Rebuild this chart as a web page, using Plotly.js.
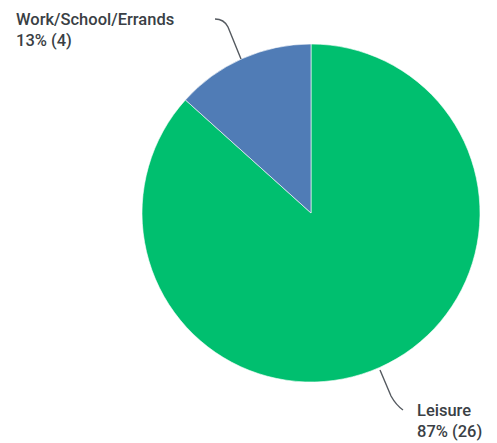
<!DOCTYPE html>
<html>
<head>
<meta charset="utf-8">
<script src="https://cdn.plot.ly/plotly-3.0.1.min.js"></script>
<style>html,body{margin:0;padding:0;background:#fff;}#chart{width:497px;height:443px;}</style>
</head>
<body>
<div id="chart"></div>
<script>
const categories = ["Leisure", "Work/School/Errands"];
const counts = [26, 4];
const colors = ["#00BF6F", "#507CB6"];

const W = 497, H = 443;
const px = x => x / W;
const py = y => 1 - y / H;
const total = counts.reduce((a, b) => a + b, 0);
const labelText = i => categories[i] + "<br>" + Math.round(counts[i] / total * 100) + "% (" + counts[i] + ")";

const trace = {
  type: "pie",
  labels: categories,
  values: counts,
  sort: false,
  direction: "clockwise",
  rotation: 0,
  textinfo: "none",
  hoverinfo: "none",
  showlegend: false,
  marker: { colors: colors, line: { color: "#ffffff", width: 0.6 } },
  domain: { x: [px(142), px(480)], y: [py(382), py(44)] }
};

function pathFrom(pts) {
  return "M " + px(pts[0][0]) + "," + py(pts[0][1]) +
    " Q " + px(pts[1][0]) + "," + py(pts[1][1]) + " " + px(pts[2][0]) + "," + py(pts[2][1]) +
    " L " + px(pts[3][0]) + "," + py(pts[3][1]);
}

const lineStyle = { color: "#555a60", width: 1.4 };
const font = { family: "Roboto, 'Open Sans', sans-serif", size: 16.5, color: "#3a3f45", weight: 500 };

const layout = {
  width: W, height: H,
  margin: { l: 0, r: 0, t: 0, b: 0 },
  paper_bgcolor: "#ffffff",
  plot_bgcolor: "#ffffff",
  shapes: [
    { type: "path", xref: "paper", yref: "paper", line: lineStyle,
      path: pathFrom([[215, 19], [224, 19], [228, 27], [241, 59]]) },
    { type: "path", xref: "paper", yref: "paper", line: lineStyle,
      path: pathFrom([[403, 410], [396, 405], [391, 396], [380, 370]]) }
  ],
  annotations: [
    { xref: "paper", yref: "paper", x: px(14), y: py(8), xanchor: "left", yanchor: "top",
      align: "left", showarrow: false, text: labelText(1), font: font },
    { xref: "paper", yref: "paper", x: px(415), y: py(399), xanchor: "left", yanchor: "top",
      align: "left", showarrow: false, text: labelText(0), font: font }
  ]
};

Plotly.newPlot("chart", [trace], layout, { displayModeBar: false, staticPlot: true });
</script>
</body>
</html>
